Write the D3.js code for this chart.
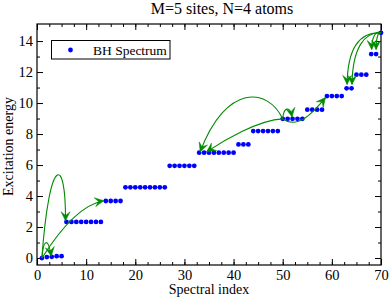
<!DOCTYPE html>
<html><head><meta charset="utf-8">
<script src="https://cdn.jsdelivr.net/npm/d3@7"></script>
<style>html,body{margin:0;padding:0;background:#fff;}svg{display:block;}</style>
</head><body>
<svg id="c" width="390" height="299"></svg>
<script>
// ---- data ----
const title = "M=5 sites, N=4 atoms";
const xLabel = "Spectral index";
const yLabel = "Excitation energy";
const legendLabel = "BH Spectrum";
const energies = [
  0.00, 0.06, 0.08, 0.12, 0.12,
  2.33, 2.33, 2.33, 2.33, 2.33, 2.33, 2.33, 2.33,
  3.68, 3.68, 3.68, 3.68,
  4.56, 4.56, 4.56, 4.56, 4.56, 4.56, 4.56, 4.56, 4.56,
  5.95, 5.95, 5.95, 5.95, 5.95, 5.95,
  6.80, 6.80, 6.80, 6.80, 6.80, 6.80, 6.80, 6.80,
  7.33, 7.33, 7.33,
  8.19, 8.19, 8.19, 8.19, 8.19, 8.19,
  8.98, 8.98, 8.98, 8.98, 8.98,
  9.57, 9.57, 9.57, 9.57,
  10.45, 10.45, 10.45, 10.45,
  10.95, 10.95,
  11.83, 11.83, 11.83,
  13.16, 13.16,
  14.53
];
const xTicks = [0, 10, 20, 30, 40, 50, 60, 70];
const yTicks = [0, 2, 4, 6, 8, 10, 12, 14];
// transition arrows (data coordinates): start, control 1, control 2, end
const arrowStart = [[1,0],[1,0],[1,0],[50,8.98],[50,8.98],[50,8.98],[50,8.98],[70,14.53],[70,14.53],[70,14.53],[70,14.53]];
const arrowC1    = [[1.3,1.3],[2.5,6.7],[5.49,2.26],[47,11.0],[45,8.9],[50.2,9.8],[53,8.3],[65.5,14.6],[66.5,14.6],[69,14.7],[69.6,14.7]];
const arrowC2    = [[2.3,1.3],[5.9,6.7],[9.69,3.49],[38.5,11.3],[38,7.6],[51.5,9.8],[56,9.3],[63.2,13.5],[64.2,13.5],[68.1,14.3],[69.0,14.3]];
const arrowEnd   = [[2.9,0.12],[5.8,2.4],[13.6,3.7],[33.2,6.85],[34.5,6.85],[51.9,9.1],[58.7,10.35],[63.1,11.2],[64.1,11.2],[68.1,13.45],[69.0,13.45]];

// ---- layout ----
const svg = d3.select("#c");
const L = 37, R = 381, T = 24, B = 265;
const x = d3.scaleLinear().domain([0, 70]).range([L, R]);
const y = d3.scaleLinear().domain([-0.45, 15.1]).range([B, T]);
const font = "'Liberation Serif','Times New Roman',serif";
const green = "rgb(0,139,0)";

// title
svg.append("text").attr("x", 222).attr("y", 14).attr("text-anchor", "middle")
  .attr("font-family", font).attr("font-size", 16).text(title);

// axes
function styleAxis(g) {
  g.select(".domain").remove();
  g.selectAll("line").attr("stroke", "#000");
  g.selectAll("text").attr("font-family", font).attr("font-size", 14.5).attr("fill", "#000");
}
const xMinor = d3.range(0, 70.01, 2.5);
const yMinor = d3.range(1, 15, 2);
svg.append("g").attr("transform", `translate(0,${B})`)
  .call(d3.axisBottom(x).tickValues(xTicks).tickFormat(d3.format("d")).tickSize(-6).tickPadding(5)).call(styleAxis);
svg.append("g").attr("transform", `translate(0,${B})`)
  .call(d3.axisBottom(x).tickValues(xMinor).tickFormat("").tickSize(-3)).call(styleAxis);
svg.append("g").attr("transform", `translate(0,${T})`)
  .call(d3.axisTop(x).tickValues(xTicks).tickFormat("").tickSize(-6)).call(styleAxis);
svg.append("g").attr("transform", `translate(0,${T})`)
  .call(d3.axisTop(x).tickValues(xMinor).tickFormat("").tickSize(-3)).call(styleAxis);
svg.append("g").attr("transform", `translate(${L},0)`)
  .call(d3.axisLeft(y).tickValues(yTicks).tickFormat(d3.format("d")).tickSize(-6).tickPadding(4)).call(styleAxis);
svg.append("g").attr("transform", `translate(${L},0)`)
  .call(d3.axisLeft(y).tickValues(yMinor).tickFormat("").tickSize(-3)).call(styleAxis);
svg.append("g").attr("transform", `translate(${R},0)`)
  .call(d3.axisRight(y).tickValues(yTicks).tickFormat("").tickSize(-6)).call(styleAxis);
svg.append("g").attr("transform", `translate(${R},0)`)
  .call(d3.axisRight(y).tickValues(yMinor).tickFormat("").tickSize(-3)).call(styleAxis);

// frame
svg.append("rect").attr("x", L).attr("y", T).attr("width", R - L).attr("height", B - T)
  .attr("fill", "none").attr("stroke", "#000").attr("stroke-width", 1.2);

// axis labels
svg.append("text").attr("x", (L + R) / 2).attr("y", 294).attr("text-anchor", "middle")
  .attr("font-family", font).attr("font-size", 14).text(xLabel);
svg.append("text").attr("transform", `translate(13,${(T + B) / 2 + 2}) rotate(-90)`).attr("text-anchor", "middle")
  .attr("font-family", font).attr("font-size", 14).text(yLabel);

// points
svg.append("g").selectAll("circle").data(energies).join("circle")
  .attr("cx", (d, i) => x(i + 1)).attr("cy", d => y(d)).attr("r", 2.4).attr("fill", "#0000ff");

// arrows
const ag = svg.append("g");
arrowStart.forEach((s, i) => {
  const p0 = [x(s[0]), y(s[1])];
  const p1 = [x(arrowC1[i][0]), y(arrowC1[i][1])];
  const p2 = [x(arrowC2[i][0]), y(arrowC2[i][1])];
  const p3 = [x(arrowEnd[i][0]), y(arrowEnd[i][1])];
  const path = d3.path();
  path.moveTo(p0[0], p0[1]);
  path.bezierCurveTo(p1[0], p1[1], p2[0], p2[1], p3[0], p3[1]);
  ag.append("path").attr("d", path.toString()).attr("fill", "none")
    .attr("stroke", green).attr("stroke-width", 1.1);
  // arrowhead
  let dx = p3[0] - p2[0], dy = p3[1] - p2[1];
  const len = Math.hypot(dx, dy) || 1; dx /= len; dy /= len;
  const nx = -dy, ny = dx, hl = 9, hw = 4.5;
  const head = [
    [p3[0], p3[1]],
    [p3[0] - hl * dx + hw * nx, p3[1] - hl * dy + hw * ny],
    [p3[0] - 0.6 * hl * dx, p3[1] - 0.6 * hl * dy],
    [p3[0] - hl * dx - hw * nx, p3[1] - hl * dy - hw * ny]
  ];
  ag.append("path").attr("d", "M" + head.map(p => p.join(",")).join("L") + "Z")
    .attr("fill", green).attr("stroke", green).attr("stroke-width", 0.5);
});

// legend
svg.append("rect").attr("x", 51.5).attr("y", 40.5).attr("width", 118.5).attr("height", 18.5)
  .attr("fill", "#fff").attr("stroke", "#000").attr("stroke-width", 1);
svg.append("circle").attr("cx", 70.5).attr("cy", 50).attr("r", 2.4).attr("fill", "#0000ff");
svg.append("text").attr("x", 93).attr("y", 54.5).attr("font-family", font).attr("font-size", 13.5).text(legendLabel);
</script>
</body></html>
